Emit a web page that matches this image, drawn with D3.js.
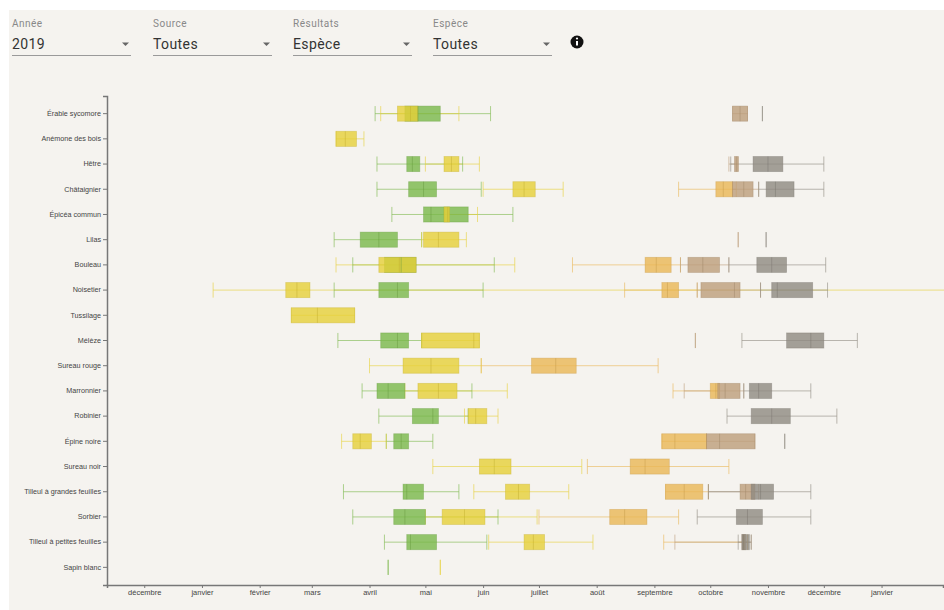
<!DOCTYPE html>
<html>
<head>
<meta charset="utf-8">
<script src="https://cdn.jsdelivr.net/npm/d3@7"></script>
<style>
  body { margin: 0; background: #fff; }
  svg { display: block; }
  .axis text { font-family: "Liberation Sans", Arial, sans-serif; font-size: 7.5px; fill: #444; }
  .axis.y text { font-size: 7.2px; }
  .axis path, .axis line { stroke: #777; }
  .axis path { stroke-width: 1.5; }
  .ctrl-label { font-family: Roboto, sans-serif; font-size: 10px; fill: #888; letter-spacing: 0.5px; }
  .ctrl-value { font-family: Roboto, sans-serif; font-size: 14px; fill: #333; letter-spacing: 0.4px; }
</style>
</head>
<body>
<div id="chart"></div>
<script>
// species, top to bottom
const especes = ["Érable sycomore", "Anémone des bois", "Hêtre", "Châtaignier", "Épicéa commun",
  "Lilas", "Bouleau", "Noisetier", "Tussilage", "Mélèze", "Sureau rouge", "Marronnier",
  "Robinier", "Épine noire", "Sureau noir", "Tilleul à grandes feuilles", "Sorbier",
  "Tilleul à petites feuilles", "Sapin blanc"];

const moisLabels = ["janvier", "février", "mars", "avril", "mai", "juin", "juillet",
  "août", "septembre", "octobre", "novembre", "décembre"];

// values: day of year 2019 (0 = 1 janvier) -> [espèce, min, q1, médiane, q3, max]
const feuillaison = [
  ["Érable sycomore", 93, 109, 116, 128, 155],
  ["Hêtre", 94, 110, 113, 117, 140],
  ["Châtaignier", 94, 111, 119, 126, 150],
  ["Épicéa commun", 102, 119, 123, 143, 167],
  ["Lilas", 71, 85, 95, 105, 118],
  ["Bouleau", 81, 98, 107, 115, 157],
  ["Noisetier", 71, 95, 105, 111, 151],
  ["Mélèze", 73, 96, 105, 111, 118],
  ["Marronnier", 86, 94, 100, 109, 145],
  ["Robinier", 95, 113, 124, 127, 143],
  ["Épine noire", 99, 103, 107, 111, 124],
  ["Tilleul à grandes feuilles", 76, 108, 110, 119, 138],
  ["Sorbier", 81, 103, 109, 120, 159],
  ["Tilleul à petites feuilles", 98, 110, 112, 126, 153],
  ["Sapin blanc", 100, 100, 100, 100, 100]
];

const floraison = [
  ["Érable sycomore", 96, 105, 112, 116, 138],
  ["Anémone des bois", 72, 72, 77, 83, 87],
  ["Hêtre", 120, 130, 134, 138, 149],
  ["Châtaignier", 151, 167, 173, 179, 194],
  ["Épicéa commun", 130, 130, 132, 133, 148],
  ["Lilas", 118, 119, 127, 138, 142],
  ["Bouleau", 72, 95, 106, 115, 168],
  ["Noisetier", 6, 45, 51, 58, 420],
  ["Tussilage", 48, 48, 62, 82, 82],
  ["Mélèze", 118, 118, 146, 149, 149],
  ["Sureau rouge", 90, 108, 123, 138, 150],
  ["Marronnier", 109, 116, 127, 137, 164],
  ["Robinier", 141, 143, 147, 153, 159],
  ["Épine noire", 75, 81, 85, 91, 99],
  ["Sureau noir", 124, 149, 157, 166, 204],
  ["Tilleul à grandes feuilles", 146, 163, 170, 176, 197],
  ["Sorbier", 120, 129, 141, 152, 180],
  ["Tilleul à petites feuilles", 154, 173, 178, 184, 210],
  ["Sapin blanc", 128, 128, 128, 128, 128]
];

const maturite = [
  ["Châtaignier", 256, 276, 280, 285, 287],
  ["Bouleau", 199, 238, 244, 252, 257],
  ["Noisetier", 227, 247, 250, 256, 266],
  ["Sureau rouge", 150, 177, 190, 201, 245],
  ["Marronnier", 253, 273, 276, 278, 278],
  ["Épine noire", 247, 247, 254, 271, 271],
  ["Sureau noir", 207, 230, 238, 251, 283],
  ["Tilleul à grandes feuilles", 249, 249, 259, 269, 272],
  ["Sorbier", 181, 219, 227, 239, 256],
  ["Tilleul à petites feuilles", 248, 292, 292, 292, 293]
];

const coloration = [
  ["Érable sycomore", 285, 285, 289, 293, 293],
  ["Hêtre", 283, 286, 287, 288, 288],
  ["Châtaignier", 285, 285, 291, 296, 299],
  ["Lilas", 288, 288, 288, 288, 288],
  ["Bouleau", 257, 261, 269, 278, 283],
  ["Noisetier", 266, 268, 286, 289, 300],
  ["Mélèze", 265, 265, 265, 265, 265],
  ["Marronnier", 259, 277, 281, 289, 291],
  ["Épine noire", 271, 271, 278, 297, 297],
  ["Tilleul à grandes feuilles", 272, 289, 292, 297, 299],
  ["Tilleul à petites feuilles", 254, 290, 291, 292, 295]
];

const chute = [
  ["Érable sycomore", 301, 301, 301, 301, 301],
  ["Hêtre", 284, 296, 304, 312, 334],
  ["Châtaignier", 299, 303, 308, 318, 334],
  ["Lilas", 303, 303, 303, 303, 303],
  ["Bouleau", 283, 298, 306, 314, 335],
  ["Noisetier", 300, 306, 309, 328, 336],
  ["Mélèze", 290, 314, 327, 334, 352],
  ["Marronnier", 291, 294, 299, 306, 327],
  ["Robinier", 282, 295, 306, 316, 341],
  ["Épine noire", 313, 313, 313, 313, 313],
  ["Tilleul à grandes feuilles", 272, 295, 300, 307, 327],
  ["Sorbier", 266, 287, 293, 301, 327],
  ["Tilleul à petites feuilles", 288, 290, 291, 294, 295]
];

const phases = [
  {nom: "Feuillaison", data: feuillaison, color: "#79b84a"},
  {nom: "Floraison", data: floraison, color: "#e6d038"},
  {nom: "Maturité des fruits", data: maturite, color: "#eab655"},
  {nom: "Coloration des feuilles", data: coloration, color: "#bd9e7b"},
  {nom: "Chute des feuilles", data: chute, color: "#8f8a81"}
];

const controles = [
  {label: "Année", value: "2019", x: 12},
  {label: "Source", value: "Toutes", x: 153},
  {label: "Résultats", value: "Espèce", x: 293},
  {label: "Espèce", value: "Toutes", x: 433}
];

const W = 944, H = 610;
const margin = {left: 107, top: 96, right: 1, bottom: 25};

const svg = d3.select("#chart").append("svg")
  .attr("width", W)
  .attr("height", H);

// page panel
svg.append("rect")
  .attr("x", 9).attr("y", 10)
  .attr("width", W - 9).attr("height", H - 10)
  .attr("fill", "#f5f3ef");

// dropdowns
let ctrl = svg.selectAll(".ctrl")
  .data(controles)
  .enter().append("g")
  .attr("class", "ctrl")
  .attr("transform", d => `translate(${d.x}, 0)`);

ctrl.append("text").attr("class", "ctrl-label").attr("y", 27).text(d => d.label);
ctrl.append("text").attr("class", "ctrl-value").attr("y", 49).text(d => d.value);
ctrl.append("line")
  .attr("x1", 0).attr("x2", 119)
  .attr("y1", 55.5).attr("y2", 55.5)
  .attr("stroke", "#9a9a9a");
ctrl.append("path")
  .attr("d", "M110,42.5l3.5,3.5l3.5,-3.5z")
  .attr("fill", "#666");

// info icon
let info = svg.append("g").attr("transform", "translate(577, 42)");
info.append("circle").attr("r", 6.5).attr("fill", "#111");
info.append("rect").attr("x", -1).attr("y", -1).attr("width", 2).attr("height", 4.5).attr("fill", "#fff");
info.append("circle").attr("cy", -3.5).attr("r", 1.1).attr("fill", "#fff");

// scales
const jour0 = new Date(2019, 0, 1);
const toDate = v => d3.timeDay.offset(jour0, v);

let x = d3.scaleTime()
  .domain([new Date(2018, 10, 11), new Date(2020, 1, 3)])
  .range([margin.left, W - margin.right]);

let y = d3.scaleBand()
  .domain(especes)
  .range([margin.top, H - margin.bottom])
  .paddingInner(0.4)
  .paddingOuter(0.4);

const bw = y.bandwidth();

// axes: one tick per month, décembre 2018 .. janvier 2020
svg.append("g")
  .attr("class", "axis x")
  .attr("transform", `translate(0, ${H - margin.bottom})`)
  .call(d3.axisBottom(x)
    .tickValues(d3.timeMonth.range(new Date(2018, 11, 1), new Date(2020, 0, 2)))
    .tickSize(3)
    .tickPadding(2)
    .tickFormat(d => moisLabels[d.getMonth()]));

svg.append("g")
  .attr("class", "axis y")
  .attr("transform", `translate(${margin.left}, 0)`)
  .call(d3.axisLeft(y).tickSize(4).tickPadding(2));

// clip for values running off the chart
svg.append("clipPath").attr("id", "plot-clip")
  .append("rect")
  .attr("x", margin.left).attr("y", margin.top)
  .attr("width", W - margin.left).attr("height", H - margin.top - margin.bottom);

let plot = svg.append("g").attr("clip-path", "url(#plot-clip)");

let rows = [];
phases.forEach(p => p.data.forEach(r => rows.push({
  phase: p.nom, color: p.color, espece: r[0],
  min: r[1], q1: r[2], med: r[3], q3: r[4], max: r[5]
})));

// whiskers
plot.append("g").selectAll("line")
  .data(rows)
  .enter().append("line")
  .attr("x1", d => x(toDate(d.min)))
  .attr("x2", d => x(toDate(d.max)))
  .attr("y1", d => y(d.espece) + bw / 2)
  .attr("y2", d => y(d.espece) + bw / 2)
  .attr("stroke", d => d.color)
  .attr("stroke-opacity", 0.6);

let ends = [];
rows.forEach(d => { ends.push({d: d, v: d.min}); ends.push({d: d, v: d.max}); });

plot.append("g").selectAll("line")
  .data(ends)
  .enter().append("line")
  .attr("x1", e => x(toDate(e.v)))
  .attr("x2", e => x(toDate(e.v)))
  .attr("y1", e => y(e.d.espece))
  .attr("y2", e => y(e.d.espece) + bw)
  .attr("stroke", e => e.d.color)
  .attr("stroke-opacity", 0.6);

// boxes
plot.append("g").selectAll("rect")
  .data(rows.filter(d => d.q3 > d.q1))
  .enter().append("rect")
  .attr("x", d => x(toDate(d.q1)))
  .attr("width", d => x(toDate(d.q3)) - x(toDate(d.q1)))
  .attr("y", d => y(d.espece))
  .attr("height", bw)
  .attr("fill", d => d.color)
  .attr("fill-opacity", 0.8)
  .attr("stroke", d => d3.color(d.color).darker(0.4))
  .attr("stroke-opacity", 0.45)
  .attr("stroke-width", 0.8);

// medians
plot.append("g").selectAll("line")
  .data(rows.filter(d => d.q3 > d.q1))
  .enter().append("line")
  .attr("x1", d => x(toDate(d.med)))
  .attr("x2", d => x(toDate(d.med)))
  .attr("y1", d => y(d.espece))
  .attr("y2", d => y(d.espece) + bw)
  .attr("stroke", d => d3.color(d.color).darker(0.5))
  .attr("stroke-opacity", 0.45);
</script>
</body>
</html>
